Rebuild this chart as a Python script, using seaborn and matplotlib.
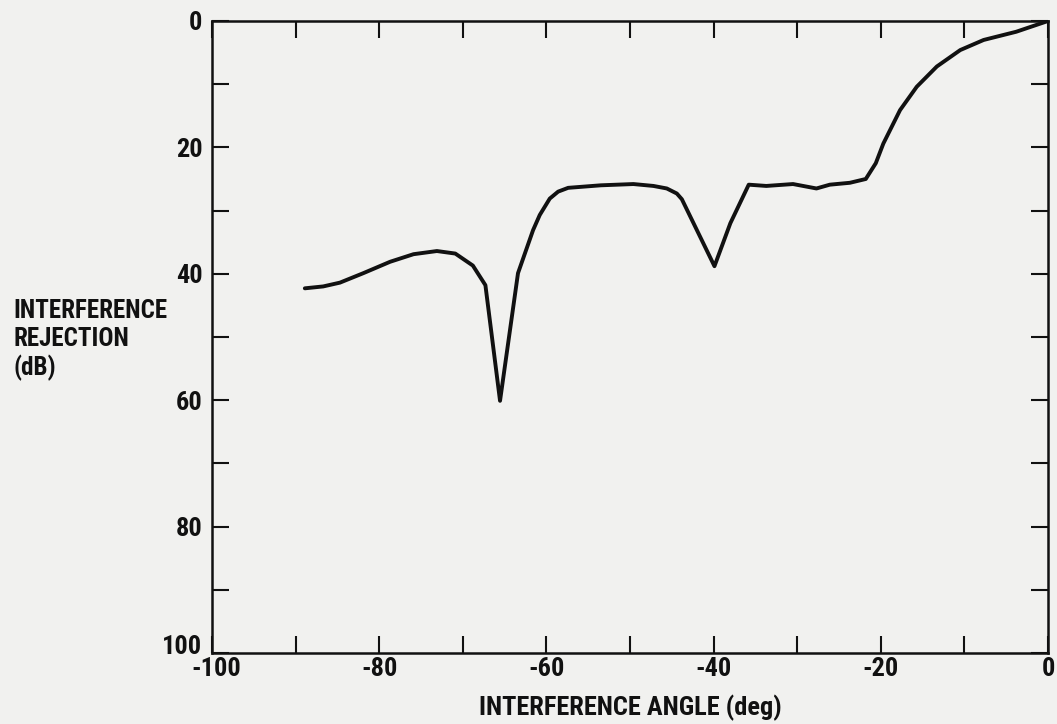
import matplotlib
matplotlib.use("Agg")
import matplotlib.pyplot as plt
from matplotlib import font_manager
import matplotlib.transforms as mtransforms
import seaborn as sns
import pandas as pd

# Measured interference rejection versus interference angle
angle_deg = [-88.9, -86.7, -84.7, -81.9, -78.7, -75.9, -73.1, -70.9, -68.8, -67.3,
             -65.55, -63.4, -61.6, -60.8, -59.6, -58.6, -57.4, -53.5, -49.6, -47.2,
             -45.6, -44.4, -43.8, -39.9, -38.0, -35.8, -33.7, -30.5, -27.7, -26.1,
             -23.7, -21.8, -20.6, -19.7, -17.7, -15.7, -13.3, -10.5, -7.7, -3.8, 0.0]
rejection_db = [42.3, 42.0, 41.4, 39.9, 38.1, 36.9, 36.4, 36.8, 38.7, 41.8,
                60.1, 39.9, 33.1, 30.7, 28.1, 27.0, 26.4, 26.0, 25.8, 26.1,
                26.5, 27.3, 28.2, 38.8, 32.0, 25.9, 26.1, 25.8, 26.5, 25.9,
                25.6, 25.0, 22.5, 19.4, 14.1, 10.4, 7.2, 4.6, 3.0, 1.7, 0.0]

x_ticks = list(range(-100, 1, 10))
x_ticklabels = [str(v) if v % 20 == 0 else "" for v in x_ticks]
y_ticks = list(range(0, 101, 10))
y_ticklabels = [str(v) if v % 20 == 0 else "" for v in y_ticks]

sns.set_theme(style="ticks")
installed = {f.name for f in font_manager.fontManager.ttflist}
families = [f for f in ["Roboto Condensed", "Liberation Sans Narrow", "DejaVu Sans Condensed"]
            if f in installed] + ["DejaVu Sans"]
plt.rcParams["font.family"] = families

paper = "#f1f1ef"
ink = "#111111"

df = pd.DataFrame({"angle": angle_deg, "rejection": rejection_db})

fig = plt.figure(figsize=(10.57, 7.24), dpi=100, facecolor=paper)
ax = fig.add_axes([0.2006, 0.0981, 0.7909, 0.8729])
ax.set_facecolor(paper)

sns.lineplot(data=df, x="angle", y="rejection", sort=False, estimator=None,
             color=ink, linewidth=2.8, ax=ax)

ax.set_xlim(-100, 0)
ax.set_ylim(100, 0)
ax.set_xticks(x_ticks)
ax.set_xticklabels(x_ticklabels, fontweight="semibold")
ax.set_yticks(y_ticks)
ax.set_yticklabels(y_ticklabels, fontweight="semibold")

for side in ["left", "right", "top", "bottom"]:
    ax.spines[side].set_visible(True)
    ax.spines[side].set_linewidth(1.8)
    ax.spines[side].set_color(ink)

ax.tick_params(axis="both", which="major", direction="in", length=12.5, width=1.5,
               color=ink, labelcolor=ink, labelsize=19, top=True, right=True,
               labeltop=False, labelright=False)
ax.tick_params(axis="x", pad=3)
ax.tick_params(axis="y", pad=7)

# the bottom "100" sits a little above its tick so it clears the "-100" below it
lift = mtransforms.ScaledTranslation(0, 8 / 100, fig.dpi_scale_trans)
ylabels = ax.get_yticklabels()
ylabels[-1].set_transform(ylabels[-1].get_transform() + lift)
xlabels = ax.get_xticklabels()
shift = mtransforms.ScaledTranslation(4 / 100, 0, fig.dpi_scale_trans)
xlabels[0].set_transform(xlabels[0].get_transform() + shift)

ax.set_xlabel("INTERFERENCE ANGLE (deg)", fontsize=19, fontweight="semibold",
              color=ink, labelpad=10)
ax.set_ylabel("")
fig.text(13 / 1057, 1 - 340 / 724, "INTERFERENCE\nREJECTION\n(dB)", ha="left", va="center",
         fontsize=18, fontweight="semibold", color=ink, linespacing=1.2)

fig.savefig("out.png", dpi=100, facecolor=paper)
